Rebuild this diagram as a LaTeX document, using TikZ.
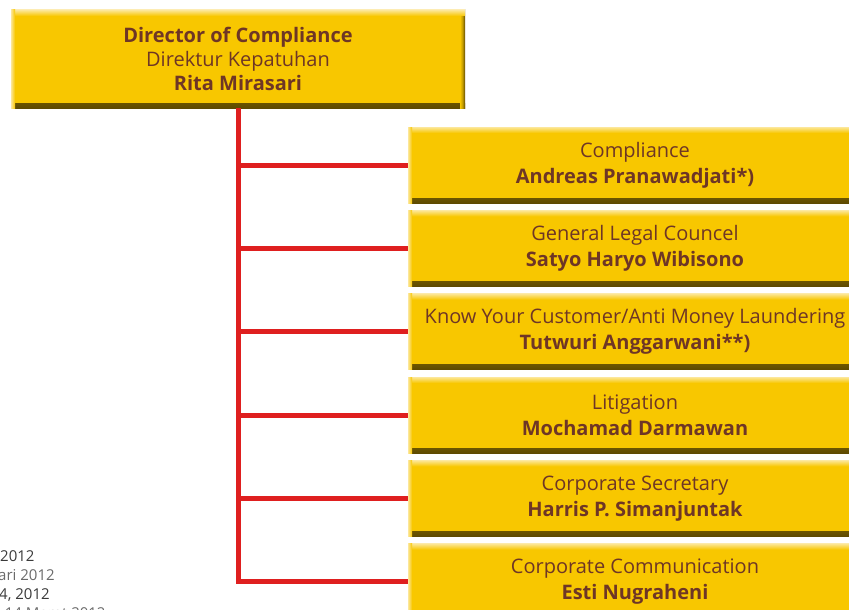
\documentclass[tikz,border=0pt]{standalone}
\usepackage{fontspec}
\setmainfont{Open Sans}
\definecolor{boxY}{HTML}{F8C700}
\definecolor{boxHi}{HTML}{FCE79A}
\definecolor{boxMd}{HTML}{C49C00}
\definecolor{boxDk}{HTML}{5E4A00}
\definecolor{txt}{HTML}{6E3626}
\definecolor{redline}{HTML}{DF1F1F}
\definecolor{noteA}{HTML}{3A3A3A}
\definecolor{noteB}{HTML}{6A6A6A}
\tikzset{
  orgbox/.style={fill=boxY, inner sep=0pt, align=center, text=txt,
    minimum width=454pt,
    path picture={
      \path[top color=boxY, bottom color=boxDk, middle color=boxMd]
        ([yshift=5pt]path picture bounding box.south west) rectangle (path picture bounding box.south east);
      \path[left color=boxY, right color=boxDk, middle color=boxMd]
        ([xshift=-5pt]path picture bounding box.north east) rectangle (path picture bounding box.south east);
      \path[top color=boxHi, bottom color=boxY]
        (path picture bounding box.north west) rectangle ([yshift=-6pt]path picture bounding box.north east);
      \path[left color=boxHi, right color=boxY]
        (path picture bounding box.north west) rectangle ([xshift=4pt]path picture bounding box.south west);
    }},
  dirbox/.style={orgbox, minimum height=98pt, font=\fontsize{20}{24}\selectfont},
  unitbox/.style={orgbox, minimum height=76pt, font=\fontsize{20}{26}\selectfont},
  link/.style={draw=redline, line width=5pt},
  note/.style={anchor=base west, inner sep=0pt, font=\fontsize{15}{18}\selectfont},
}
\begin{document}
\begin{tikzpicture}[x=1pt,y=-1pt]
\useasboundingbox (0,0) rectangle (849,610);

\node[dirbox] (dir) at (238,59) {\textbf{Director of Compliance}\\Direktur Kepatuhan\\\textbf{Rita Mirasari}};

\node[unitbox] (u1) at (635,165)   {Compliance\\\textbf{Andreas Pranawadjati*)}};
\node[unitbox] (u2) at (635,248.3) {General Legal Councel\\\textbf{Satyo Haryo Wibisono}};
\node[unitbox] (u3) at (635,331.6) {Know Your Customer/Anti Money Laundering\\\textbf{Tutwuri Anggarwani**)}};
\node[unitbox] (u4) at (635,415)   {Litigation\\\textbf{Mochamad Darmawan}};
\node[unitbox] (u5) at (635,498.3) {Corporate Secretary\\\textbf{Harris P. Simanjuntak}};
\node[unitbox] (u6) at (635,581.6) {Corporate Communication\\\textbf{Esti Nugraheni}};

\path[link] (dir.south) -- (dir.south |- u6.west) -- (u6.west);
\foreach \u in {u1,u2,u3,u4,u5}{
  \path[link] (dir.south |- \u.west) -- (\u.west);
}

\node[note, text=noteA] (n1) at (0,561) {2012};
\node[note, text=noteB] (n2) at (-2,580) {ari 2012};
\node[note, text=noteA] (n3) at (-1,599) {4, 2012};
\node[note, text=noteB] (n4) at (-3,618) {l 14 Maret 2012};
\end{tikzpicture}
\end{document}
